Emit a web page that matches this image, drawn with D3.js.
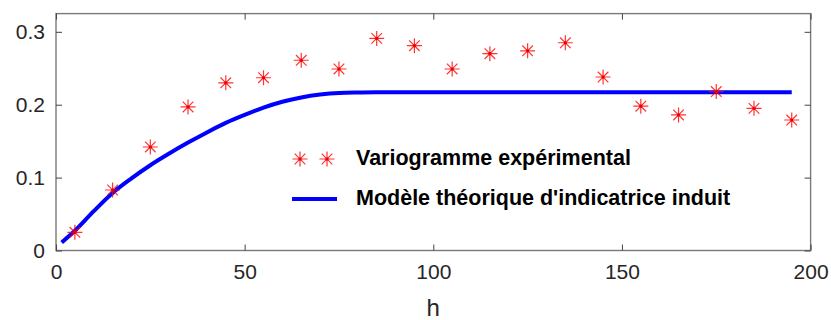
<!DOCTYPE html>
<html>
<head>
<meta charset="utf-8">
<script src="https://cdn.jsdelivr.net/npm/d3@7"></script>
<style>
  html, body { margin: 0; padding: 0; background: #fff; }
  svg { display: block; }
  text { font-family: "Liberation Sans", Arial, Helvetica, sans-serif; }
</style>
</head>
<body>
<svg id="chart" width="831" height="320"></svg>
<script>
// Experimental variogram: lag distances and estimated semivariances
const lagH = [5, 15, 25, 35, 45, 55, 65, 75, 85, 95, 105, 115, 125, 135, 145, 155, 165, 175, 185, 195];
const gammaExp = [0.025, 0.083, 0.142, 0.197, 0.230, 0.237, 0.261, 0.249, 0.291, 0.281,
                  0.249, 0.270, 0.274, 0.285, 0.238, 0.198, 0.186, 0.218, 0.195, 0.179];

// Induced theoretical indicator model, sampled along h
const modelH = [1.5, 5, 10, 15, 20, 25, 30, 35, 40, 45, 50, 55, 60, 65, 70, 75, 80, 85, 100, 150, 195];
const modelGamma = [0.011, 0.027, 0.054, 0.079, 0.099, 0.117, 0.133, 0.148, 0.162, 0.175, 0.186,
                    0.196, 0.204, 0.210, 0.214, 0.2162, 0.2168, 0.217, 0.217, 0.217, 0.217];

const xTicks = [0, 50, 100, 150, 200];
const yTicks = [0, 0.1, 0.2, 0.3];
const xLabel = "h";
const legendLabels = ["Variogramme expérimental", "Modèle théorique d'indicatrice induit"];

const W = 831, H = 320;
const margin = { left: 56, right: 20.4, top: 13.6, bottom: 69.5 };
const iw = W - margin.left - margin.right;
const ih = H - margin.top - margin.bottom;

const svg = d3.select("#chart");
const g = svg.append("g").attr("transform", `translate(${margin.left},${margin.top})`);

const x = d3.scaleLinear().domain([0, 200]).range([0, iw]);
const y = d3.scaleLinear().domain([0, 0.325]).range([ih, 0]);

const tickColor = "#262626";
const boxColor = "#7a7a7a";
const fontTick = 21;

// Box
g.append("rect")
  .attr("x", 0).attr("y", 0).attr("width", iw).attr("height", ih)
  .attr("fill", "none").attr("stroke", boxColor).attr("stroke-width", 1.4);

// Axes: ticks pointing inward on all four sides
function styleAxis(sel, hideLabels) {
  sel.select(".domain").remove();
  sel.selectAll(".tick line").attr("stroke", "#444").attr("stroke-width", 1);
  sel.selectAll(".tick text")
    .attr("fill", tickColor)
    .style("font-size", fontTick + "px");
  if (hideLabels) sel.selectAll(".tick text").remove();
}

g.append("g").attr("transform", `translate(0,${ih})`)
  .call(d3.axisBottom(x).tickValues(xTicks).tickSize(-6).tickPadding(14).tickFormat(d3.format("d")))
  .call(s => styleAxis(s, false));
g.append("g")
  .call(d3.axisTop(x).tickValues(xTicks).tickSize(-6))
  .call(s => styleAxis(s, true));
g.append("g")
  .call(d3.axisLeft(y).tickValues(yTicks).tickSize(-6).tickPadding(11).tickFormat(d => d === 0 ? "0" : d3.format(".1f")(d)))
  .call(s => styleAxis(s, false));
g.append("g").attr("transform", `translate(${iw},0)`)
  .call(d3.axisRight(y).tickValues(yTicks).tickSize(-6))
  .call(s => styleAxis(s, true));

// Axis label
g.append("text")
  .attr("x", x(100)).attr("y", ih + 66)
  .attr("text-anchor", "middle")
  .attr("fill", tickColor)
  .style("font-size", "24px")
  .text(xLabel);

// Model curve
const line = d3.line()
  .x((d, i) => x(modelH[i]))
  .y((d, i) => y(modelGamma[i]))
  .curve(d3.curveMonotoneX);
g.append("path")
  .datum(modelGamma)
  .attr("d", line)
  .attr("fill", "none")
  .attr("stroke", "#0000ff")
  .attr("stroke-width", 4);

// Asterisk marker
function asterisk(sel, cx, cy) {
  const r = 7.5, rd = 5.3;
  const p = d3.path();
  p.moveTo(cx - r, cy); p.lineTo(cx + r, cy);
  p.moveTo(cx, cy - r); p.lineTo(cx, cy + r);
  p.moveTo(cx - rd, cy - rd); p.lineTo(cx + rd, cy + rd);
  p.moveTo(cx - rd, cy + rd); p.lineTo(cx + rd, cy - rd);
  sel.append("path")
    .attr("d", p.toString())
    .attr("fill", "none")
    .attr("stroke", "#ff0000")
    .attr("stroke-opacity", 0.8)
    .attr("stroke-width", 1.2);
  sel.append("circle").attr("cx", cx).attr("cy", cy).attr("r", 1.6).attr("fill", "#ee0000");
}

const pts = g.append("g");
lagH.forEach((h, i) => asterisk(pts, x(h), y(gammaExp[i])));

// Legend
const leg = svg.append("g");
asterisk(leg, 300, 159);
asterisk(leg, 327, 159);
leg.append("line")
  .attr("x1", 292).attr("x2", 337).attr("y1", 199).attr("y2", 199)
  .attr("stroke", "#0000ff").attr("stroke-width", 4);
leg.append("text")
  .attr("x", 356).attr("y", 165)
  .style("font-size", "21.5px").style("font-weight", "bold")
  .attr("fill", "#000")
  .text(legendLabels[0]);
leg.append("text")
  .attr("x", 356).attr("y", 205)
  .style("font-size", "21.5px").style("font-weight", "bold")
  .attr("fill", "#000")
  .text(legendLabels[1]);
</script>
</body>
</html>
